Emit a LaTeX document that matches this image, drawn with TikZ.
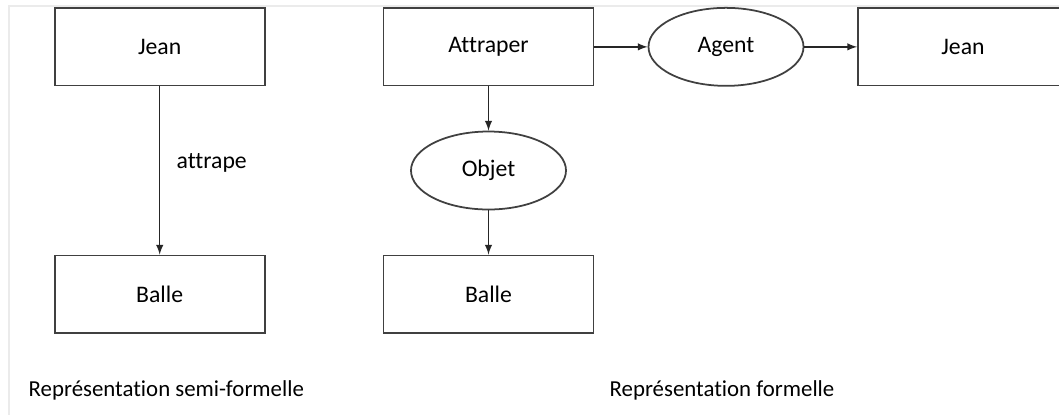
\documentclass[tikz,border=0pt]{standalone}
\usepackage{fontspec}
\setmainfont{Carlito}[Ligatures={NoCommon,NoContextual}, Contextuals=NoAlternate]
\usepackage{tikz}
\usetikzlibrary{shapes.geometric}

\tikzset{
  boite/.style={draw=black!75, line width=1pt, minimum width=4.2cm, minimum height=1.55cm, font=\fontsize{13.5}{15}\selectfont},
  bulle/.style={draw=black!75, line width=1pt, ellipse, minimum width=3.1cm, minimum height=1.56cm, inner sep=0pt, font=\fontsize{13.5}{15}\selectfont},
  lien/.style={-latex, line width=0.9pt, black!85}
}

\begin{document}
\begin{tikzpicture}
\clip (0,0) rectangle (21.18,-8.3);
\path [fill=white] (0,0) rectangle (21.18,-8.3);

\draw [black!8, line width=0.8pt] (0.18,-8.3) -- (0.18,-0.12) -- (21.18,-0.12);

% semi-formelle
\node [boite] (jeanA) at (3.194,-0.937) {Jean};
\node [boite] (balleA) at (3.194,-5.884) {Balle};
\draw [lien] (jeanA) -- (balleA);
\node [font=\fontsize{13.5}{15}\selectfont] (attrape) at (4.234,-3.26) {attrape};

% formelle
\node [boite] (attraper) at (9.77,-0.937) {Attraper};
\node [bulle] (agent) at (14.52,-0.937) {Agent};
\node [boite] (jeanB) at (19.26,-0.937) {Jean};
\node [bulle] (objet) at (9.77,-3.41) {Objet};
\node [boite] (balleB) at (9.77,-5.884) {Balle};

\draw [lien] (attraper) -- (agent);
\draw [lien] (agent) -- (jeanB);
\draw [lien] (attraper) -- (objet);
\draw [lien] (objet) -- (balleB);

\node [right, font=\fontsize{13}{15}\selectfont] (legA) at (0.45,-7.814) {Représentation semi-formelle};
\node [font=\fontsize{13}{15}\selectfont] (legB) at (14.44,-7.814) {Représentation formelle};
\end{tikzpicture}
\end{document}
